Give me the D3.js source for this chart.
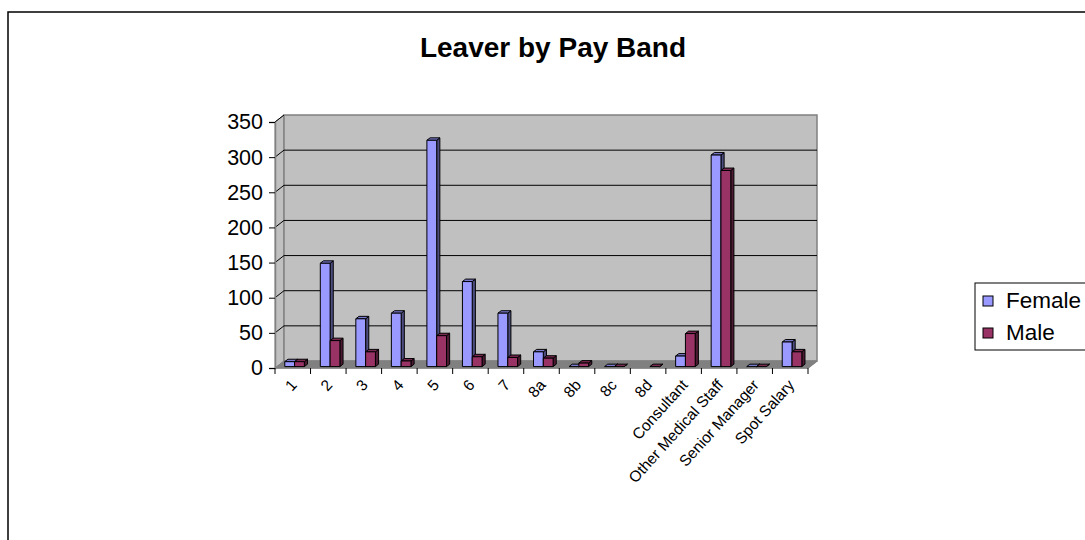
<!DOCTYPE html>
<html><head><meta charset="utf-8">
<script src="https://cdn.jsdelivr.net/npm/d3@7"></script>
<style>body{margin:0;background:#fff}svg{display:block}text{font-family:"Liberation Sans",Arial,sans-serif}</style>
</head><body>
<svg id="c" width="1085" height="540"></svg>
<script>
const categories = ["1","2","3","4","5","6","7","8a","8b","8c","8d","Consultant","Other Medical Staff","Senior Manager","Spot Salary"];
const female = [7,147,68,76,322,121,76,21,0,0,null,15,301,0,35];
const male   = [7,37,21,8,44,14,13,12,5,0,0,47,279,0,21];
const seriesNames = ["Female","Male"];
const yTicks = [0,50,100,150,200,250,300,350];
const title = "Leaver by Pay Band";

const colors = {Female:{front:"#9999FF",top:"#7A7ACC",side:"#4D4D80"}, Male:{front:"#993366",top:"#7A2952",side:"#4D1A33"}};

const svg = d3.select("#c");
svg.append("rect").attr("x",8).attr("y",12).attr("width",1090).attr("height",540).attr("fill","#fff").attr("stroke","#000").attr("stroke-width",1.5);

svg.append("text").attr("x",553).attr("y",57).attr("text-anchor","middle").attr("font-size",28).attr("font-weight","bold").text(title);

const X0=275, X1=808, Y0=368, Y1=122, DX=9, DY=-7;
const x = d3.scaleBand().domain(categories).range([X0,X1]);
const y = d3.scaleLinear().domain([0,350]).range([Y0,Y1]);

// walls
svg.append("polygon").attr("points",[[X0,Y1],[X0+DX,Y1+DY],[X0+DX,Y0+DY],[X0,Y0]].join(" ")).attr("fill","#C0C0C0").attr("stroke","#808080");
svg.append("rect").attr("x",X0+DX).attr("y",Y1+DY).attr("width",X1-X0).attr("height",Y0-Y1).attr("fill","#C0C0C0").attr("stroke","#808080").attr("stroke-width",1.5);
svg.append("polygon").attr("points",[[X0,Y0],[X1,Y0],[X1+DX,Y0+DY],[X0+DX,Y0+DY]].join(" ")).attr("fill","#808080").attr("stroke","#808080");

// gridlines
yTicks.filter(t=>t>0&&t<350).forEach(t=>{
  svg.append("line").attr("x1",X0+DX).attr("x2",X1+DX).attr("y1",y(t)+DY).attr("y2",y(t)+DY).attr("stroke","#000").attr("stroke-width",1);
});
yTicks.filter(t=>t>0).forEach(t=>{
  svg.append("line").attr("x1",X0).attr("x2",X0+DX).attr("y1",y(t)).attr("y2",y(t)+DY).attr("stroke","#000").attr("stroke-width",1);
});

// y axis
const ya = svg.append("g").attr("transform",`translate(${X0},0)`).call(d3.axisLeft(y).tickValues(yTicks).tickSize(6).tickPadding(6));
ya.select(".domain").attr("stroke","#808080").attr("stroke-width",1.5);
ya.selectAll(".tick line").attr("stroke","#000");
ya.selectAll("text").attr("font-size",21.5).attr("font-family","Liberation Sans, Arial, sans-serif").attr("fill","#000");

// x axis
svg.append("line").attr("x1",X0).attr("x2",X1).attr("y1",Y0).attr("y2",Y0).attr("stroke","#808080").attr("stroke-width",1.5);
svg.append("line").attr("x1",X1).attr("x2",X1+DX).attr("y1",Y0).attr("y2",Y0+DY).attr("stroke","#808080").attr("stroke-width",1.5);
const bounds = categories.map(c=>x(c)).concat([X1]);
bounds.forEach(b=>svg.append("line").attr("x1",b).attr("x2",b).attr("y1",Y0).attr("y2",Y0+6).attr("stroke","#000"));
categories.forEach(c=>{
  const cx = x(c)+x.bandwidth()/2;
  svg.append("text").attr("transform",`translate(${cx+1},382) rotate(-48)`).attr("text-anchor","end").attr("dy","0.35em").attr("font-size",15.5).text(c);
});

// bars
const f0=0.2, f1=0.55, bw=9.8;
const gap=(x.bandwidth()-2*bw)/2;
const ddx=DX*(f1-f0), ddy=DY*(f1-f0);
const data=[female,male];
categories.forEach((c,i)=>{
  seriesNames.forEach((s,k)=>{
    const v=data[k][i];
    if(v===null||v===undefined) return;
    const xa=x(c)+gap+k*bw+DX*f0, xb=xa+bw;
    const bot=y(0)+DY*f0, top=y(v)+DY*f0;
    const col=colors[s];
    const g=svg.append("g").attr("stroke","#000").attr("stroke-width",1).attr("stroke-linejoin","round");
    g.append("polygon").attr("points",[[xb,top],[xb+ddx,top+ddy],[xb+ddx,bot+ddy],[xb,bot]].join(" ")).attr("fill",col.side);
    g.append("polygon").attr("points",[[xa,top],[xb,top],[xb+ddx,top+ddy],[xa+ddx,top+ddy]].join(" ")).attr("fill",col.top);
    g.append("rect").attr("x",xa).attr("y",top).attr("width",bw).attr("height",Math.max(0,bot-top)).attr("fill",col.front);
  });
});

// legend
const lg=svg.append("g");
lg.append("rect").attr("x",975).attr("y",283).attr("width",120).attr("height",67).attr("fill","#fff").attr("stroke","#000").attr("stroke-width",1);
seriesNames.forEach((s,k)=>{
  const yy=296+k*32;
  lg.append("rect").attr("x",983).attr("y",yy).attr("width",10).attr("height",10).attr("fill",colors[s].front).attr("stroke","#000");
  lg.append("text").attr("x",1006).attr("y",yy+12).attr("font-size",22.5).text(s);
});
</script>
</body></html>
